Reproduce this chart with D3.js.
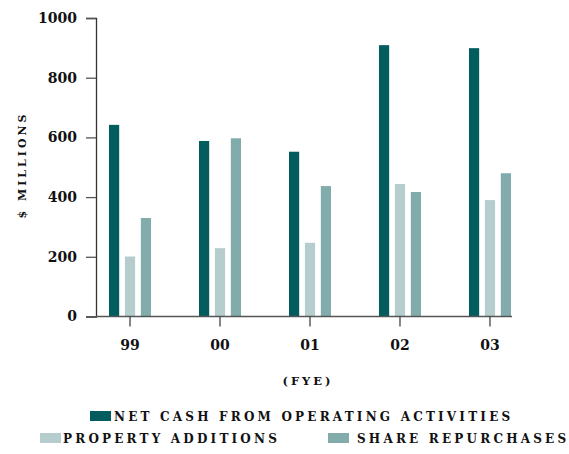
<!DOCTYPE html>
<html lang="en">
<head>
<meta charset="UTF-8">
<title>Cash flow chart</title>
<script src="https://d3js.org/d3.v7.min.js"></script>
<style>
  body { margin: 0; background: #fff; }
  text { font-family: "DejaVu Serif", "Liberation Serif", serif; font-weight: bold; fill: #111; }
</style>
</head>
<body>
<script>
// Data
const years = ["99", "00", "01", "02", "03"];
const seriesNames = ["NET CASH FROM OPERATING ACTIVITIES", "PROPERTY ADDITIONS", "SHARE REPURCHASES"];
const netCash = [642, 588, 552, 909, 899];
const propertyAdditions = [201, 229, 247, 444, 390];
const shareRepurchases = [330, 597, 437, 417, 480];
const yTicks = [0, 200, 400, 600, 800, 1000];

const colors = ["#035c5e", "#b5cdcd", "#82abab"];

const w = 569, h = 454;
const plot = { left: 96, right: 512, top: 18, bottom: 316.5 };

const svg = d3.select("body").append("svg")
    .attr("width", w)
    .attr("height", h);

// group slots are 90px apart, first centred at 130
const x = d3.scaleBand()
    .domain(years)
    .range([85, 535])
    .paddingInner(0.533)
    .paddingOuter(0.2667);

const seriesKeys = [0, 1, 2];
const xInner = d3.scaleBand()
    .domain(seriesKeys)
    .range([0, x.bandwidth()])
    .paddingInner(0.36);

const y = d3.scaleLinear()
    .domain([0, 1000])
    .range([plot.bottom, plot.top]);

// Bars
const rows = years.map((yr, i) => ({ year: yr, values: [netCash[i], propertyAdditions[i], shareRepurchases[i]] }));
const groups = svg.append("g").selectAll("g")
    .data(rows)
    .join("g")
    .attr("transform", d => `translate(${x(d.year)},0)`);

groups.selectAll("rect")
    .data(d => d.values.map((v, k) => ({ k, v })))
    .join("rect")
    .attr("x", d => xInner(d.k))
    .attr("width", xInner.bandwidth())
    .attr("y", d => y(d.v))
    .attr("height", d => y(0) - y(d.v))
    .attr("fill", d => colors[d.k]);

// Y axis
const yAxis = svg.append("g")
    .attr("transform", `translate(${plot.left},0)`)
    .call(d3.axisLeft(y).tickValues(yTicks).tickSize(10).tickPadding(9).tickFormat(d3.format("d")));
yAxis.select(".domain").attr("stroke", "#333").attr("stroke-width", 1.3);
yAxis.selectAll(".tick line").attr("stroke", "#555").attr("stroke-width", 1.3);
yAxis.selectAll(".tick text").style("font-size", "14px").attr("fill", "#111");

// X axis
const xAxis = svg.append("g")
    .attr("transform", `translate(0,${y(0)})`)
    .call(d3.axisBottom(x).tickSize(10).tickPadding(14).tickSizeOuter(0));
xAxis.select(".domain").remove();
xAxis.insert("line", ":first-child")
    .attr("x1", plot.left)
    .attr("x2", plot.right)
    .attr("stroke", "#555")
    .attr("stroke-width", 1.5);
xAxis.selectAll(".tick line").attr("stroke", "#444").attr("stroke-width", 1.3);
xAxis.selectAll(".tick text").style("font-size", "14px").attr("fill", "#111");

// Axis titles
svg.append("text")
    .attr("transform", `translate(26,165) rotate(-90)`)
    .attr("text-anchor", "middle")
    .style("font-size", "11px")
    .style("letter-spacing", "3px")
    .text("$ MILLIONS");

svg.append("text")
    .attr("x", 308)
    .attr("y", 385)
    .attr("text-anchor", "middle")
    .style("font-size", "11.5px")
    .style("letter-spacing", "3px")
    .text("(FYE)");

// Legend
const legendItems = [
    { k: 0, x: 90, y: 411, gap: 24 },
    { k: 1, x: 40, y: 433, gap: 23 },
    { k: 2, x: 328, y: 433, gap: 29 }
];
const legend = svg.append("g").selectAll("g")
    .data(legendItems)
    .join("g")
    .attr("transform", d => `translate(${d.x},${d.y})`);

legend.append("rect")
    .attr("width", 21)
    .attr("height", 10)
    .attr("fill", d => colors[d.k]);

legend.append("text")
    .attr("x", d => d.gap)
    .attr("y", 10)
    .style("font-size", "12px")
    .style("letter-spacing", "3.2px")
    .text(d => seriesNames[d.k]);
</script>
</body>
</html>
